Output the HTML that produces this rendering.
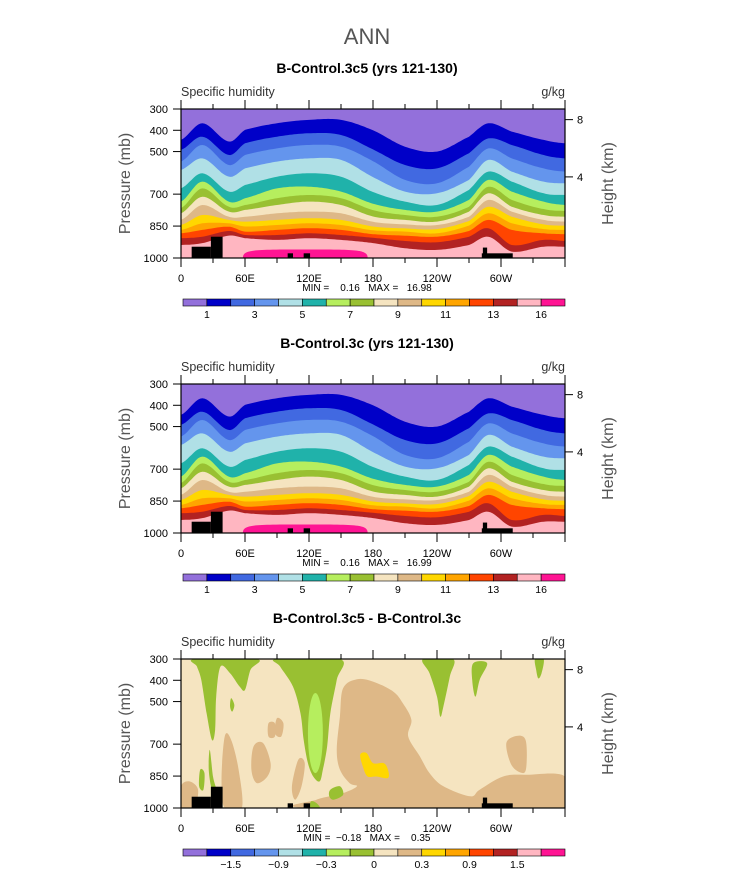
<!DOCTYPE html>
<html><head><meta charset="utf-8"><style>
html,body{margin:0;padding:0;background:#fff;}
svg{display:block;font-family:"Liberation Sans",sans-serif;}
</style></head><body>
<svg id="chart" width="733" height="873" viewBox="0 0 733 873" xmlns="http://www.w3.org/2000/svg">
<text x="367" y="44" text-anchor="middle" font-size="22" font-weight="300" fill="#555">ANN</text>
</svg>
<script>
// ---------- data ----------
const lons = [0,20,45,60,90,120,150,180,210,240,270,288,310,340,360];
// contour boundaries (pressure, mb) between successive colour bands
const b1  = [445,367,453,398,367,351,351,400,477,500,430,367,406,445,461];
const b2  = [492,430,516,461,430,414,422,490,563,579,508,438,469,516,532];
const b3  = [547,469,563,516,485,469,477,545,633,649,571,485,532,579,594];
const b4  = [586,532,618,579,547,532,539,620,688,696,633,539,594,641,649];
const b5  = [673,602,688,657,618,602,618,690,735,751,680,594,641,696,704];
const b6  = [735,641,735,719,673,665,688,745,774,782,727,633,688,735,751];
const b7  = [766,673,759,751,719,704,719,775,798,806,759,665,727,770,779];
const b8  = [790,712,782,774,751,735,751,805,821,829,782,696,759,798,806];
const b9  = [821,751,806,806,790,782,790,830,842,845,806,727,782,821,829];
const b10 = [845,798,821,829,821,813,821,852,861,864,826,759,806,842,848];
const b11 = [868,837,837,852,845,837,845,870,876,884,848,790,837,864,868];
const b12 = [884,868,853,876,868,860,868,888,895,900,873,821,868,884,888];
const b13 = [907,900,873,892,892,884,892,905,920,926,900,860,939,915,920];
const b14 = [939,930,895,907,915,907,915,930,954,962,939,900,970,947,947];
const boundaries = [b1,b2,b3,b4,b5,b6,b7,b8,b9,b10,b11,b12,b13,b14];
const deepPinkLon = [58,175];
const deepPinkTop = [960,960];
// topography
const mtnLon0 = [10,28,100,115,283,282];
const mtnLon1 = [28,39,105,121,287,311];
const mtnP    = [947,900,978,978,951,978];
// colour bars
const cbLabels1 = ["1","3","5","7","9","11","13","16"];
const cbLabels3 = ["\u22121.5","\u22120.9","\u22120.3","0","0.3","0.9","1.5"];
const pTicks = [300,400,500,700,850,1000];
const lonTicks = [0,60,120,180,240,300];
const lonLabels = ["0","60E","120E","180","120W","60W"];
const hTicks = [8,4];
const hTickP = [350,619];
// difference panel blobs [lon,p]
const tanBig = [[152,437],[165,395],[180,406],[199,453],[208,508],[216,586],[213,664],[224,758],[233,836],[246,898],[271,945],[280,914],[302,852],[324,844],[360,852],[360,1000],[121,1000],[127,961],[152,930],[165,898],[158,883],[149,820],[146,727],[149,570]];
const tanRight = [[305,695],[315,661],[323,680],[324,789],[321,836],[310,800]];
const tanLeft1 = [[0,898],[8,875],[16,914],[12,1000],[0,1000]];
const tanLeft2 = [[41,664],[47,680],[54,820],[57,1000],[41,1000],[38,867]];
const tanMid1 = [[68,711],[77,695],[84,789],[81,852],[71,883],[66,820]];
const tanMid2 = [[110,773],[116,789],[113,898],[107,961],[104,898]];
const tanMid3 = [[90,578],[96,602],[94,664],[88,648]];
const tanMid4 = [[82,602],[88,602],[88,664],[82,664]];
const grnLeft = [[13,300],[71,300],[65,352],[60,445],[55,430],[46,367],[37,336],[33,477],[32,633],[29,680],[24,555],[19,398],[15,336]];
const grnLeft2 = [[27,727],[30,852],[33,914],[29,914],[26,820]];
const grnLeft3 = [[18,820],[22,836],[21,914],[17,898]];
const grnDot1 = [[47,484],[50,516],[48,547],[46,523]];
const grnCenter = [[90,300],[149,300],[146,398],[140,555],[137,711],[133,820],[130,875],[124,852],[119,789],[115,680],[112,555],[105,430],[93,336]];
const grnBlob = [[140,914],[149,898],[152,938],[143,961],[139,945]];
const grnBottom = [[122,969],[127,977],[130,1000],[121,1000]];
const grnRight1 = [[227,300],[255,300],[252,383],[246,523],[243,570],[240,477],[233,367]];
const grnRight2 = [[274,320],[287,320],[280,398],[276,477],[273,398]];
const grnRight3 = [[332,300],[340,300],[338,367],[335,391],[333,352]];
const yelBlob = [[168,750],[174,742],[180,789],[190,789],[194,820],[194,859],[183,852],[175,852],[171,813]];
const lgEllipse = [126,648,7,188]; // lon, p, half-width lon, half-height p

// ---------- rendering ----------
const colors = ["#9370DB","#0000C8","#4169E1","#6495ED","#B0E0E6","#20B2AA","#B6EE5E","#99C032","#F5E4C0","#DEB887","#FFD700","#FFA500","#FF4500","#B22222","#FFB6C1","#FF1493"];
const NS="http://www.w3.org/2000/svg";
const svg=document.getElementById('chart');
const X0=181,X1=565,PT=109,PH=149;
function xs(l){return X0+l*(X1-X0)/360;}
function mk(tag,attrs,parent){const e=document.createElementNS(NS,tag);for(const k in attrs)e.setAttribute(k,attrs[k]);(parent||svg).appendChild(e);return e;}
function interp(arr,l){for(let i=0;i<lons.length-1;i++){if(l<=lons[i+1]){const t=(l-lons[i])/(lons[i+1]-lons[i]);
 const i0=Math.max(0,i-1),i3=Math.min(lons.length-1,i+2);const p0=arr[i0],p1=arr[i],p2=arr[i+1],p3=arr[i3];
 const t2=t*t,t3=t2*t;return 0.5*((2*p1)+(-p0+p2)*t+(2*p0-5*p1+4*p2-p3)*t2+(-p0+3*p1-3*p2+p3)*t3);}}return arr[arr.length-1];}
function closedSmooth(pts,ys){let d='';const n=pts.length;const P=pts.map(q=>[xs(q[0]),ys(q[1])]);
 d='M'+P[0][0]+','+P[0][1];for(let i=0;i<n;i++){const p0=P[(i-1+n)%n],p1=P[i],p2=P[(i+1)%n],p3=P[(i+2)%n];
 d+=' C'+(p1[0]+(p2[0]-p0[0])/6)+','+(p1[1]+(p2[1]-p0[1])/6)+' '+(p2[0]-(p3[0]-p1[0])/6)+','+(p2[1]-(p3[1]-p1[1])/6)+' '+p2[0]+','+p2[1];}return d+'Z';}

function panel(off,title,minmax,diff,idx){
 const ys=p=>PT+off+(p-300)*PH/700;
 const g=mk('g',{});
 
 
 const t=mk('text',{x:367,y:73+off,'text-anchor':'middle','font-size':14,'font-weight':'bold',fill:'#000'},g);t.textContent=title;
 
 
 const s=mk('text',{x:181,y:96+off,'font-size':12.5,fill:'#333'},g);s.textContent='Specific humidity';
 
 
 const u=mk('text',{x:565,y:96+off,'text-anchor':'end','font-size':12.5,fill:'#333'},g);u.textContent='g/kg';
 
 
 const cl=mk('clipPath',{id:'clip'+idx},g);mk('rect',{x:X0,y:ys(300),width:X1-X0,height:PH},cl);
 const pg=mk('g',{'clip-path':'url(#clip'+idx+')'},g);
 if(!diff){
  const bg=mk('rect',{x:X0,y:ys(300),width:X1-X0,height:PH,fill:colors[0]},pg);
  
  
  boundaries.forEach((b,k)=>{let d='M'+X0+','+ys(1000);for(let l=0;l<=360;l+=2)d+=' L'+xs(l).toFixed(1)+','+ys(interp(b,l)).toFixed(1);d+=' L'+X1+','+ys(1000)+'Z';
   const e=mk('path',{d:d,fill:colors[k+1]},pg);
   
   });
  const xa=xs(deepPinkLon[0]),xb=xs(deepPinkLon[1]),yt=ys(deepPinkTop[0]),yb=ys(1000);
  const dp=mk('path',{d:'M'+xa+','+yb+' C'+xa+','+yt+' '+(xa+10)+','+yt+' '+((xa+xb)/2)+','+yt+' C'+(xb-10)+','+yt+' '+xb+','+yt+' '+xb+','+yb+'Z',fill:colors[15]},pg);
  
  
 } else {
  const bg=mk('rect',{x:X0,y:ys(300),width:X1-X0,height:PH,fill:colors[8]},pg);
  
  
  const blobs=[[tanBig,9],[tanRight,9],[tanLeft1,9],[tanLeft2,9],[tanMid1,9],[tanMid2,9],[tanMid3,9],[tanMid4,9],[grnLeft,7],[grnLeft2,7],[grnLeft3,7],[grnDot1,7],[grnCenter,7],[grnBlob,7],[grnBottom,7],[grnRight1,7],[grnRight2,7],[grnRight3,7],[yelBlob,10]];
  blobs.forEach((b,i)=>{const e=mk('path',{d:closedSmooth(b[0],ys),fill:colors[b[1]]},pg);
   
   });
  const el=mk('ellipse',{cx:xs(lgEllipse[0]),cy:ys(lgEllipse[1]),rx:xs(lgEllipse[2])-X0,ry:lgEllipse[3]*PH/700,fill:colors[6]},pg);
  
  
 }
 mtnLon0.forEach((l,i)=>{const r=mk('rect',{x:xs(l),y:ys(mtnP[i]),width:xs(mtnLon1[i])-xs(l),height:ys(1000)-ys(mtnP[i]),fill:'#000'},pg);
  
  });
 const fr=mk('rect',{x:X0,y:ys(300),width:X1-X0,height:PH,fill:'none',stroke:'#000','stroke-width':1.2},g);
 
 
 for(let l=0;l<=360;l+=30){const x=xs(l),len=(l%60==0)?9:5;
  mk('line',{x1:x,x2:x,y1:ys(300),y2:ys(300)-len,stroke:'#000'},g);
  mk('line',{x1:x,x2:x,y1:ys(1000),y2:ys(1000)+len,stroke:'#000'},g);}
 lonTicks.forEach((l,i)=>{const e=mk('text',{x:xs(l),y:ys(1000)+24,'text-anchor':'middle','font-size':11,fill:'#000'},g);e.textContent=lonLabels[i];
  
  });
 pTicks.forEach(p=>{mk('line',{x1:X0,x2:X0-8,y1:ys(p),y2:ys(p),stroke:'#000'},g);
  const e=mk('text',{x:X0-13,y:ys(p)+4,'text-anchor':'end','font-size':11,fill:'#000'},g);e.textContent=p;
  
  });
 hTicks.forEach((h,i)=>{const y=ys(hTickP[i]);mk('line',{x1:X1,x2:X1+8,y1:y,y2:y,stroke:'#000'},g);
  const e=mk('text',{x:X1+12,y:y+4,'font-size':11,fill:'#000'},g);e.textContent=h;
  
  });
 const yl=mk('text',{transform:'translate(130,'+(ys(650))+') rotate(-90)','text-anchor':'middle','font-size':16,fill:'#555'},g);yl.textContent='Pressure (mb)';
 
 
 const hl=mk('text',{transform:'translate(613,'+(ys(650))+') rotate(-90)','text-anchor':'middle','font-size':16,fill:'#555'},g);hl.textContent='Height (km)';
 
 
 const mm=mk('text',{x:367,y:ys(1000)+33,'text-anchor':'middle','font-size':10,fill:'#000',style:'white-space:pre'},g);mm.textContent=minmax;
 
 
 // colour bar
 const cy=299+off,cx0=183,cw=(565-183)/16;
 colors.forEach((c,i)=>{const r=mk('rect',{x:cx0+i*cw,y:cy,width:cw,height:7,fill:c,stroke:'#000','stroke-width':0.6},g);
  
  });
 const labs=diff?cbLabels3:cbLabels1;
 labs.forEach((lb,i)=>{const k=diff?2*(i+1):2*i+1;const e=mk('text',{x:cx0+k*cw,y:cy+19,'text-anchor':'middle','font-size':10.5,fill:'#000'},g);e.textContent=lb;
  
  });
}
panel(0,'B-Control.3c5 (yrs 121-130)','MIN =    0.16   MAX =   16.98',false,1);
panel(275,'B-Control.3c (yrs 121-130)','MIN =    0.16   MAX =   16.99',false,2);
panel(550,'B-Control.3c5 - B-Control.3c','MIN =  \u22120.18   MAX =    0.35',true,3);
</script>
</body></html>
